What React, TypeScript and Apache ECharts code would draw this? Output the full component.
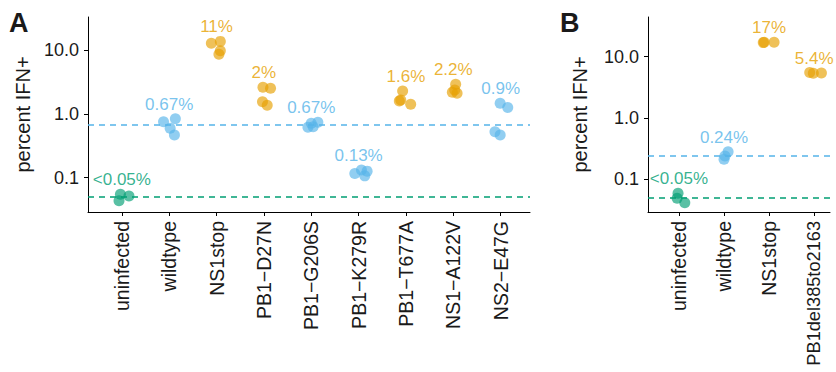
import React, { useEffect, useRef } from "react";
import * as echarts from "echarts";

// ---------- Panel A data ----------
const catsA = ["uninfected", "wildtype", "NS1stop", "PB1\u2212D27N", "PB1\u2212G206S", "PB1\u2212K279R", "PB1\u2212T677A", "NS1\u2212A122V", "NS2\u2212E47G"];
const groupA = ["neg", "wt", "up", "up", "wt", "wt", "up", "up", "wt"];
const labelsA = ["<0.05%", "0.67%", "11%", "2%", "0.67%", "0.13%", "1.6%", "2.2%", "0.9%"];
const valuesA = [
  [0.055, 0.0516, 0.0435],
  [0.757, 0.844, 0.597, 0.468],
  [12.9, 13.8, 9.86, 8.65],
  [2.63, 2.53, 1.56, 1.37],
  [0.714, 0.741, 0.632, 0.62],
  [0.117, 0.132, 0.107, 0.127],
  [2.3, 1.66, 1.42, 1.6],
  [2.93, 2.19, 2.11, 2.38],
  [1.47, 1.27, 0.527, 0.468],
];
const jitterA = [
  [-0.03, 0.15, -0.06],
  [-0.12, 0.13, 0.02, 0.11],
  [-0.11, 0.08, 0.08, 0.05],
  [-0.02, 0.14, -0.03, 0.07],
  [0.0, 0.14, 0.04, -0.07],
  [-0.08, 0.06, 0.13, 0.18],
  [-0.07, -0.11, 0.1, -0.14],
  [0.05, -0.02, 0.08, 0.03],
  [-0.01, 0.15, -0.12, -0.01],
];
const refLinesA = [0.67, 0.05];

// ---------- Panel B data ----------
const catsB = ["uninfected", "wildtype", "NS1stop", "PB1del385to2163"];
const groupB = ["neg", "wt", "up", "up"];
const labelsB = ["<0.05%", "0.24%", "17%", "5.4%"];
const valuesB = [
  [0.0584, 0.0484, 0.041],
  [0.279, 0.238, 0.21],
  [17.2, 17.2, 17.0],
  [5.5, 5.4, 5.35],
];
const jitterB = [
  [-0.02, -0.04, 0.13],
  [0.09, 0.02, 0.0],
  [-0.11, 0.11, -0.13],
  [-0.1, 0.16, -0.02],
];
const refLinesB = [0.24, 0.05];

const yTicks = [0.1, 1, 10];

const groupColors: Record<string, string> = {
  neg: "#009E73",
  wt: "#56B4E9",
  up: "#E69F00",
};
const refColors = ["#56B4E9", "#009E73"];

const FONT = "Liberation Sans, Arial, Helvetica, sans-serif";
const TXT = "#1a1a1a";

function panelSeries(
  cats: string[],
  groups: string[],
  labels: string[],
  values: number[][],
  jitter: number[][],
  refs: number[],
  idx: number
) {
  const series: any[] = [];
  series.push({
    type: "scatter",
    xAxisIndex: idx,
    yAxisIndex: idx,
    symbolSize: 0,
    silent: true,
    z: 2,
    data: [],
    markLine: {
      silent: true,
      symbol: "none",
      label: { show: false },
      animation: false,
      data: refs.map((r, k) => ({
        yAxis: r,
        lineStyle: { color: refColors[k], type: [6, 5], width: 1.5 },
      })),
    },
  });
  cats.forEach((_, i) => {
    series.push({
      type: "scatter",
      xAxisIndex: idx,
      yAxisIndex: idx,
      symbolSize: 11,
      itemStyle: { color: groupColors[groups[i]], opacity: 0.65 },
      data: values[i].map((v, j) => [i + jitter[i][j], v]),
      z: 3,
    });
  });
  series.push({
    type: "scatter",
    xAxisIndex: idx,
    yAxisIndex: idx,
    symbolSize: 0,
    silent: true,
    z: 5,
    data: cats.map((_, i) => ({
      value: [i, Math.max(...values[i])],
      label: {
        show: true,
        position: "top",
        distance: 6,
        formatter: labels[i],
        color: groupColors[groups[i]],
        fontSize: 17,
        fontFamily: FONT,
      },
    })),
  });
  return series;
}

function xAxisFor(cats: string[], idx: number, min: number, max: number) {
  const ticks = cats.map((_, i) => i);
  return {
    type: "value",
    gridIndex: idx,
    min,
    max,
    splitLine: { show: false },
    axisLine: { show: true, onZero: false, lineStyle: { color: "#000", width: 1 } },
    axisTick: { show: true, length: 4, customValues: ticks, lineStyle: { color: "#000" } },
    axisLabel: {
      customValues: ticks,
      rotate: 90,
      margin: 9,
      fontSize: 19.5,
      fontFamily: FONT,
      color: TXT,
      formatter: (v: number) => {
        const s = cats[Math.round(v)] ?? "";
        return s.length > 12 ? `{s|${s}}` : s;
      },
      rich: { s: { fontSize: 18.2, fontFamily: FONT, color: TXT } },
    },
  };
}

function yAxisFor(idx: number, min: number, max: number, nameGap: number) {
  return {
    type: "log",
    gridIndex: idx,
    min,
    max,
    name: "percent IFN+",
    nameLocation: "middle",
    nameGap,
    nameTextStyle: { fontSize: 20, fontFamily: FONT, color: TXT },
    splitLine: { show: false },
    axisLine: { show: true, onZero: false, lineStyle: { color: "#000", width: 1 } },
    axisTick: { show: true, length: 4, customValues: yTicks, lineStyle: { color: "#000" } },
    axisLabel: {
      customValues: yTicks,
      margin: 9,
      fontSize: 18,
      fontFamily: FONT,
      color: TXT,
      formatter: (v: number) => v.toFixed(1),
    },
  };
}

export default function App() {
  const ref = useRef<HTMLDivElement>(null);
  useEffect(() => {
    document.body.style.margin = "0";
    const chart = echarts.init(ref.current!, null, { renderer: "svg" });
    chart.setOption({
      animation: false,
      backgroundColor: "#fff",
      grid: [
        { left: 88, top: 17, width: 442, height: 195, containLabel: false, outerBoundsMode: "none" },
        { left: 648, top: 17, width: 182, height: 195, containLabel: false, outerBoundsMode: "none" },
      ],
      xAxis: [xAxisFor(catsA, 0, -0.715, 8.62), xAxisFor(catsB, 1, -0.686, 3.35)],
      yAxis: [yAxisFor(0, 0.029, 33.3, 55), yAxisFor(1, 0.0289, 44.6, 58)],
      series: [
        ...panelSeries(catsA, groupA, labelsA, valuesA, jitterA, refLinesA, 0),
        ...panelSeries(catsB, groupB, labelsB, valuesB, jitterB, refLinesB, 1),
      ],
      graphic: [
        { type: "text", left: 9, top: 9, style: { text: "A", fontSize: 27, fontWeight: "bold", fontFamily: FONT, fill: TXT } },
        { type: "text", left: 560, top: 9, style: { text: "B", fontSize: 27, fontWeight: "bold", fontFamily: FONT, fill: TXT } },
      ],
    });
    return () => chart.dispose();
  }, []);
  return <div ref={ref} style={{ position: "fixed", left: 0, top: 0, width: 836, height: 372 }} />;
}
